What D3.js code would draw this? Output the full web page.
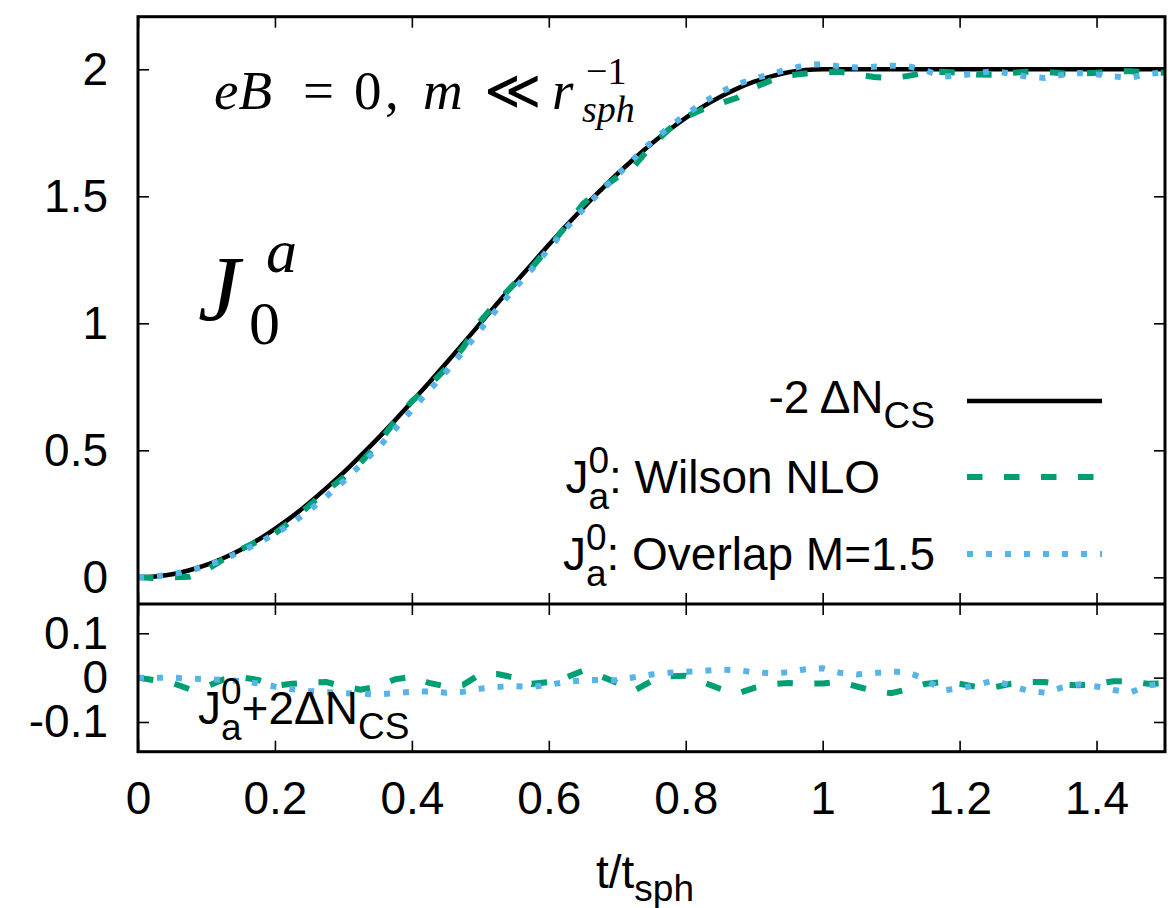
<!DOCTYPE html>
<html>
<head>
<meta charset="utf-8">
<script src="https://cdn.jsdelivr.net/npm/d3@7"></script>
<style>
  html, body { margin: 0; padding: 0; background: #fff; }
  svg { display: block; }
  text { white-space: pre; }
</style>
</head>
<body>
<svg id="chart" width="1174" height="908"></svg>
<script>
// Sample times t / t_sph
const tGrid = [0,0.025,0.05,0.075,0.1,0.125,0.15,0.175,0.2,0.225,0.25,0.275,0.3,0.325,0.35,0.375,0.4,0.425,0.45,0.475,
  0.5,0.525,0.55,0.575,0.6,0.625,0.65,0.675,0.7,0.725,0.75,0.775,0.8,0.825,0.85,0.875,0.9,0.925,0.95,0.975,
  1.0,1.025,1.05,1.075,1.1,1.125,1.15,1.175,1.2,1.225,1.25,1.275,1.3,1.325,1.35,1.375,1.4,1.425,1.45,1.475,1.5];

// -2 ΔN_CS
const minus2dNcs = [0,0.003,0.012,0.028,0.049,0.076,0.109,0.147,0.191,0.239,0.293,0.351,0.412,0.478,0.546,0.617,0.691,0.766,0.843,0.921,
  1.0,1.079,1.156,1.233,1.309,1.383,1.454,1.522,1.588,1.649,1.707,1.760,1.809,1.853,1.891,1.924,1.951,1.972,1.988,1.997,
  2.0,2.0,2.0,2.0,2.0,2.0,2.0,2.0,2.0,2.0,2.0,2.0,2.0,2.0,2.0,2.0,2.0,2.0,2.0,2.0,2.0];

// J_a^0 + 2ΔN_CS, Wilson NLO
const wilsonDiff = [0,-0.006,-0.012,-0.026,-0.02,-0.004,0.001,-0.005,-0.018,-0.014,
  -0.011,-0.01,-0.02,-0.027,-0.02,-0.004,0.002,-0.012,-0.02,-0.016,
  0.008,0.008,0.0,-0.014,-0.01,0.0,0.016,0.004,-0.012,-0.029,
  -0.008,0.003,0.004,-0.01,-0.025,-0.036,-0.023,-0.015,-0.012,-0.014,
  -0.013,-0.01,-0.02,-0.03,-0.035,-0.026,-0.014,-0.01,-0.014,-0.021,
  -0.022,-0.014,-0.01,-0.01,-0.016,-0.017,-0.014,-0.008,-0.008,-0.014,
  -0.013];

// J_a^0 + 2ΔN_CS, Overlap M=1.5
const overlapDiff = [0,0,0,-0.002,-0.004,-0.005,-0.008,-0.013,-0.02,-0.026,
  -0.03,-0.033,-0.035,-0.036,-0.038,-0.035,-0.032,-0.031,-0.034,-0.032,
  -0.025,-0.021,-0.019,-0.021,-0.016,-0.01,-0.006,-0.005,-0.006,0.001,
  0.007,0.011,0.013,0.015,0.018,0.017,0.012,0.01,0.012,0.019,
  0.021,0.011,0.007,0.01,0.014,0.012,-0.004,-0.029,-0.024,-0.017,
  -0.006,-0.018,-0.03,-0.034,-0.022,-0.015,-0.02,-0.028,-0.033,-0.018,
  -0.012];

const xTicks = [0,0.2,0.4,0.6,0.8,1,1.2,1.4];
const yTicksMain = [0,0.5,1,1.5,2];
const yTicksLower = [-0.1,0,0.1];

// J_a^0 itself = -2ΔN_CS + (J_a^0 + 2ΔN_CS)
const wilsonNLO = minus2dNcs.map((v, i) => v + wilsonDiff[i]);
const overlap15 = minus2dNcs.map((v, i) => v + overlapDiff[i]);

const COLORS = { cs: "#000000", wilson: "#009e73", overlap: "#56b4e9" };
const SANS = "'Liberation Sans', Arial, Helvetica, sans-serif";
const SERIF = "'Liberation Serif', 'Times New Roman', serif";
const FS = 46, FSUB = 37;

const svg = d3.select("#chart");
svg.append("rect").attr("width", 1174).attr("height", 908).attr("fill", "#fff");

const L = 138, R = 1165, T = 16.7, MID = 604, B = 751.7;

const x = d3.scaleLinear().domain([0, 1.5]).range([L, R]);
const yMain = d3.scaleLinear().domain([-0.105, 2.207]).range([MID, T]);
const yLow = d3.scaleLinear().domain([-0.167, 0.166]).range([B, MID]);

const defs = svg.append("defs");
defs.append("clipPath").attr("id", "clipMain").append("rect")
  .attr("x", L).attr("y", T).attr("width", R - L).attr("height", MID - T);
defs.append("clipPath").attr("id", "clipLow").append("rect")
  .attr("x", L).attr("y", MID).attr("width", R - L).attr("height", B - MID);

// ---------- inward tick marks on every side of both panels ----------
function ticks(top, bottom, yScale, yVals) {
  const TK = 11;
  const g = svg.append("g").attr("stroke", "#000").attr("stroke-width", 1.6);
  g.append("g").attr("transform", `translate(0,${bottom})`)
    .call(d3.axisBottom(x).tickValues(xTicks).tickSize(-TK).tickFormat(""));
  g.append("g").attr("transform", `translate(0,${top})`)
    .call(d3.axisTop(x).tickValues(xTicks).tickSize(-TK).tickFormat(""));
  g.append("g").attr("transform", `translate(${L},0)`)
    .call(d3.axisLeft(yScale).tickValues(yVals).tickSize(-TK).tickFormat(""));
  g.append("g").attr("transform", `translate(${R},0)`)
    .call(d3.axisRight(yScale).tickValues(yVals).tickSize(-TK).tickFormat(""));
  g.selectAll(".domain").remove();
  g.selectAll(".tick line").attr("stroke", "#000").attr("stroke-width", 1.6);
}
ticks(T, MID, yMain, yTicksMain);
ticks(MID, B, yLow, yTicksLower);

// ---------- tick labels ----------
const labelAxisY = (scale, vals) => {
  const g = svg.append("g").attr("transform", `translate(${L},0)`)
    .call(d3.axisLeft(scale).tickValues(vals).tickSize(0).tickPadding(30).tickFormat(d => String(d)));
  g.select(".domain").remove();
  g.selectAll("text").attr("font-family", SANS).attr("font-size", FS).attr("fill", "#000");
};
labelAxisY(yMain, yTicksMain);
labelAxisY(yLow, yTicksLower);

const gx = svg.append("g").attr("transform", `translate(0,${B})`)
  .call(d3.axisBottom(x).tickValues(xTicks).tickSize(0).tickPadding(30).tickFormat(d => String(d)));
gx.select(".domain").remove();
gx.selectAll("text").attr("font-family", SANS).attr("font-size", FS).attr("fill", "#000");

// ---------- series ----------
const pts = (ys) => tGrid.map((t, i) => [t, ys[i]]);

const lineMain = d3.line().x(d => x(d[0])).y(d => yMain(d[1]));
const lineLow = d3.line().x(d => x(d[0])).y(d => yLow(d[1]));

const gMain = svg.append("g").attr("clip-path", "url(#clipMain)").attr("fill", "none");
gMain.append("path").attr("d", lineMain.curve(d3.curveMonotoneX)(pts(minus2dNcs)))
  .attr("stroke", COLORS.cs).attr("stroke-width", 4.5);
lineMain.curve(d3.curveLinear);
gMain.append("path").attr("d", lineMain(pts(wilsonNLO)))
  .attr("stroke", COLORS.wilson).attr("stroke-width", 6).attr("stroke-dasharray", "15.5 21.5");
gMain.append("path").attr("d", lineMain(pts(overlap15)))
  .attr("stroke", COLORS.overlap).attr("stroke-width", 6).attr("stroke-dasharray", "6 13");

const gLow = svg.append("g").attr("clip-path", "url(#clipLow)").attr("fill", "none");
gLow.append("path").attr("d", lineLow(pts(wilsonDiff)))
  .attr("stroke", COLORS.wilson).attr("stroke-width", 6).attr("stroke-dasharray", "15.5 21.5");
gLow.append("path").attr("d", lineLow(pts(overlapDiff)))
  .attr("stroke", COLORS.overlap).attr("stroke-width", 6).attr("stroke-dasharray", "6 13");

// ---------- frames ----------
const frame = svg.append("g").attr("fill", "none").attr("stroke", "#000").attr("stroke-width", 3);
frame.append("rect").attr("x", L).attr("y", T).attr("width", R - L).attr("height", B - T);
frame.append("line").attr("x1", L).attr("x2", R).attr("y1", MID).attr("y2", MID);

// ---------- rich text helper (sub/superscripts) ----------
function rich(parts, px, py, anchor, family) {
  const g = svg.append("g");
  let cx = 0, prevStart = 0, prevW = 0;
  parts.forEach(p => {
    const t = g.append("text")
      .attr("font-family", p.family || family)
      .attr("font-size", p.size)
      .attr("font-style", p.italic ? "italic" : "normal")
      .attr("y", py + (p.dy || 0))
      .attr("fill", "#000")
      .text(p.text);
    const w = t.node().getComputedTextLength();
    let start;
    if (p.stack) {
      start = prevStart + (p.dx || 0);
      cx = Math.max(prevStart + prevW, start + w);
    } else {
      start = cx + (p.dx || 0);
      cx = start + w;
    }
    t.attr("x", start);
    prevStart = start; prevW = w;
  });
  const off = anchor === "end" ? px - cx : anchor === "middle" ? px - cx / 2 : px;
  g.attr("transform", `translate(${off},0)`);
  return g;
}

// legend
rich([{ text: "-2 ΔN", size: FS }, { text: "CS", size: FSUB, dy: 15 }], 935, 413, "end", SANS);
rich([{ text: "J", size: FS }, { text: "0", size: FSUB, dy: -20 }, { text: "a", size: FSUB, dy: 16, stack: true },
      { text: ": Wilson NLO", size: FS }], 880, 493, "end", SANS);
rich([{ text: "J", size: FS }, { text: "0", size: FSUB, dy: -20 }, { text: "a", size: FSUB, dy: 16, stack: true },
      { text: ": Overlap M=1.5", size: FS }], 935, 570, "end", SANS);

const leg = svg.append("g").attr("fill", "none");
const legX0 = 967, legX1 = 1102;
leg.append("line").attr("x1", legX0).attr("x2", legX1).attr("y1", 401).attr("y2", 401)
  .attr("stroke", COLORS.cs).attr("stroke-width", 4.5);
leg.append("line").attr("x1", legX0).attr("x2", legX1).attr("y1", 477).attr("y2", 477)
  .attr("stroke", COLORS.wilson).attr("stroke-width", 6).attr("stroke-dasharray", "15.5 21.5");
leg.append("line").attr("x1", legX0).attr("x2", legX1).attr("y1", 554).attr("y2", 554)
  .attr("stroke", COLORS.overlap).attr("stroke-width", 6).attr("stroke-dasharray", "6 13");

// lower-panel label
rich([{ text: "J", size: FS }, { text: "0", size: FSUB, dy: -20 }, { text: "a", size: FSUB, dy: 16, stack: true },
      { text: "+2ΔN", size: FS }, { text: "CS", size: FSUB, dy: 15 }], 198, 724, "start", SANS);

// x-axis title
rich([{ text: "t/t", size: FS }, { text: "sph", size: FSUB, dy: 13 }], 645, 888, "middle", SANS);

// physics annotation: eB = 0,  m ≪ r_sph^{-1}
const ann = svg.append("g").attr("font-family", SERIF).attr("fill", "#000");
const annPieces = [
  { text: "eB", x: 214, y: 109, size: 55, italic: true },
  { text: "=", x: 303, y: 109, size: 55 },
  { text: "0", x: 354, y: 109, size: 55 },
  { text: ",", x: 385, y: 109, size: 55 },
  { text: "m", x: 423, y: 109, size: 55, italic: true },
  { text: "≪", x: 484, y: 109, size: 55 },
  { text: "r", x: 552, y: 109, size: 55, italic: true },
  { text: "−1", x: 586, y: 84, size: 38 },
  { text: "sph", x: 582, y: 122, size: 38, italic: true }
];
annPieces.forEach(p => {
  ann.append("text").attr("x", p.x).attr("y", p.y).attr("font-size", p.size)
    .attr("font-style", p.italic ? "italic" : "normal").text(p.text);
});

// J_0^a
svg.append("text").attr("x", 198).attr("y", 320).attr("font-family", SERIF).attr("font-style", "italic")
  .attr("font-size", 94).attr("fill", "#000").text("J");
svg.append("text").attr("x", 266).attr("y", 272).attr("font-family", SERIF).attr("font-style", "italic")
  .attr("font-size", 62).attr("fill", "#000").text("a");
svg.append("text").attr("x", 249).attr("y", 344).attr("font-family", SERIF)
  .attr("font-size", 62).attr("fill", "#000").text("0");
</script>
</body>
</html>
